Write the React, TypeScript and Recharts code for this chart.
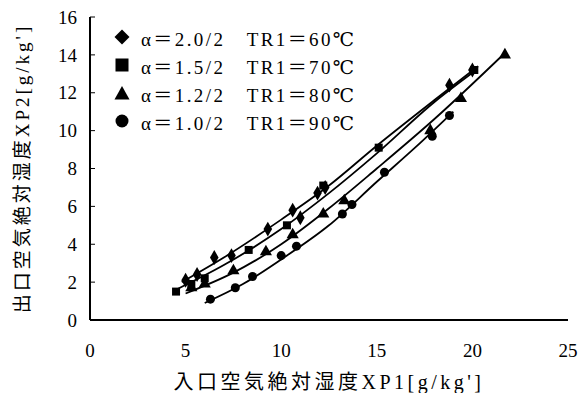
import React from 'react';
import { ScatterChart, Scatter, XAxis, YAxis, ZAxis } from 'recharts';

const xTicks = [0, 5, 10, 15, 20, 25];
const yTicks = [0, 2, 4, 6, 8, 10, 12, 14, 16];

const seriesNames = [
  'α＝2.0/2　TR1＝60℃',
  'α＝1.5/2　TR1＝70℃',
  'α＝1.2/2　TR1＝80℃',
  'α＝1.0/2　TR1＝90℃',
];
const seriesShapes = ['diamond', 'square', 'triangle', 'circle'];

// measured points
const a20X = [5.0, 5.6, 6.5, 7.4, 9.3, 10.6, 11.0, 11.9, 12.3, 18.8, 20.0];
const a20Y = [2.1, 2.4, 3.3, 3.4, 4.8, 5.8, 5.4, 6.7, 7.0, 12.4, 13.2];
const a15X = [4.5, 5.3, 6.0, 8.3, 10.3, 12.2, 15.1, 20.1];
const a15Y = [1.5, 1.9, 2.2, 3.7, 5.0, 7.1, 9.1, 13.2];
const a12X = [5.3, 6.0, 7.5, 9.2, 10.6, 12.2, 13.3, 17.8, 19.4, 21.7];
const a12Y = [1.7, 1.9, 2.6, 3.6, 4.5, 5.6, 6.3, 10.0, 11.7, 14.0];
const a10X = [6.3, 7.6, 8.5, 10.0, 10.8, 13.2, 13.7, 15.4, 17.9, 18.8];
const a10Y = [1.1, 1.7, 2.3, 3.4, 3.9, 5.6, 6.1, 7.8, 9.7, 10.8];

// fitted curves
const c20X = [4.8, 7, 10, 12.5, 15, 18, 20.3];
const c20Y = [2.0, 3.3, 5.3, 7.1, 9.2, 11.6, 13.4];
const c15X = [4.5, 7, 10, 12.5, 15, 18, 20.2];
const c15Y = [1.6, 2.9, 4.8, 6.7, 8.8, 11.5, 13.2];
const c12X = [5.0, 7.5, 10, 12.5, 15, 18, 21.7];
const c12Y = [1.4, 2.5, 4.0, 5.9, 8.0, 10.6, 14.1];
const c10X = [6.0, 8, 10, 12.5, 15, 17, 19];
const c10Y = [0.9, 1.9, 3.2, 5.0, 7.3, 9.1, 11.0];

const zip = (xs: number[], ys: number[]) => xs.map((x, i) => ({ x, y: ys[i] }));

const pointSets = [zip(a20X, a20Y), zip(a15X, a15Y), zip(a12X, a12Y), zip(a10X, a10Y)];
const curveSets = [zip(c20X, c20Y), zip(c15X, c15Y), zip(c12X, c12Y), zip(c10X, c10Y)];

const FONT = "'Liberation Serif', 'DejaVu Serif', 'Noto Sans CJK JP', serif";

const Marker = ({ kind }: { kind: string }) => {
  const s = 16;
  let el: React.ReactNode = null;
  if (kind === 'diamond') el = <polygon points="8,0.5 15.5,8 8,15.5 0.5,8" fill="#000" />;
  else if (kind === 'square') el = <rect x={1.5} y={1.5} width={13} height={13} fill="#000" />;
  else if (kind === 'triangle') el = <polygon points="8,1 15.5,14.5 0.5,14.5" fill="#000" />;
  else el = <circle cx={8} cy={8} r={6.5} fill="#000" />;
  return (
    <svg width={s} height={s} style={{ display: 'block' }}>
      {el}
    </svg>
  );
};

const LegendBox = () => (
  <div
    style={{
      position: 'absolute',
      left: 114,
      top: 23,
      fontFamily: FONT,
      fontSize: 19,
      color: '#000',
      letterSpacing: 2.4,
      pointerEvents: 'none',
    }}
  >
    {seriesNames.map((n, i) => (
      <div key={n} style={{ display: 'flex', alignItems: 'center', height: 28 }}>
        <div style={{ width: 27 }}>
          <Marker kind={seriesShapes[i]} />
        </div>
        <span style={{ whiteSpace: 'pre' }}>{n}</span>
      </div>
    ))}
  </div>
);

const YTick = (props: any) => {
  const { x, y, payload } = props;
  const axisX = x + 13;
  return (
    <g>
      <line x1={axisX} x2={axisX + 5} y1={y} y2={y} stroke="#000" strokeWidth={1} />
      <text x={x} y={y} dy="0.35em" textAnchor="end" fontFamily={FONT} fontSize={19} fill="#000">
        {payload.value}
      </text>
    </g>
  );
};

const YLabel = (props: any) => {
  const vb = props.viewBox;
  const cx = 22;
  const cy = vb.y + vb.height / 2;
  return (
    <text
      x={cx}
      y={cy}
      transform={`rotate(-90 ${cx} ${cy})`}
      textAnchor="middle"
      dominantBaseline="central"
      fontFamily={FONT}
      fontSize={19}
      letterSpacing={3}
      fill="#000"
    >
      出口空気絶対湿度XP2[g/kg']
    </text>
  );
};

const axisStroke = { stroke: '#000', strokeWidth: 2 };

export default function App() {
  return (
    <div style={{ position: 'absolute', left: 0, top: 0, width: 588, height: 393, background: '#fff' }}>
      <ScatterChart width={588} height={393} margin={{ top: 17, right: 20, left: 0, bottom: 0 }}>
        <XAxis
          type="number"
          dataKey="x"
          domain={[0, 25]}
          ticks={xTicks}
          axisLine={axisStroke}
          tickLine={false}
          tickSize={0}
          tickMargin={24}
          height={73}
          tick={{ fontFamily: FONT, fontSize: 19, fill: '#000' }}
          label={{
            value: "入口空気絶対湿度XP1[g/kg']",
            position: 'insideBottom',
            offset: 4,
            style: { fontFamily: FONT, fontSize: 20, fill: '#000', letterSpacing: 3.5 },
          }}
        />
        <XAxis
          xAxisId="top"
          orientation="top"
          type="number"
          dataKey="x"
          domain={[0, 25]}
          ticks={xTicks}
          axisLine={axisStroke}
          tickLine={false}
          tick={false}
          height={0}
        />
        <YAxis
          type="number"
          dataKey="y"
          domain={[0, 16]}
          ticks={yTicks}
          axisLine={axisStroke}
          tickLine={false}
          tickSize={0}
          tickMargin={13}
          width={90}
          tick={<YTick />}
          label={<YLabel />}
        />
        <YAxis
          yAxisId="right"
          orientation="right"
          type="number"
          dataKey="y"
          domain={[0, 16]}
          ticks={yTicks}
          axisLine={axisStroke}
          tickLine={false}
          tick={false}
          width={0}
        />
        <ZAxis range={[180, 180]} />
        {curveSets.map((d, i) => (
          <Scatter
            key={'c' + i}
            data={d}
            line={{ stroke: '#000', strokeWidth: 1.8 }}
            lineJointType="monotoneX"
            shape={() => <g />}
            legendType="none"
            isAnimationActive={false}
          />
        ))}
        {pointSets.map((d, i) => (
          <Scatter
            key={'p' + i}
            name={seriesNames[i]}
            data={d}
            fill="#000"
            shape={seriesShapes[i] as any}
            isAnimationActive={false}
          />
        ))}
      </ScatterChart>
      <LegendBox />
    </div>
  );
}
